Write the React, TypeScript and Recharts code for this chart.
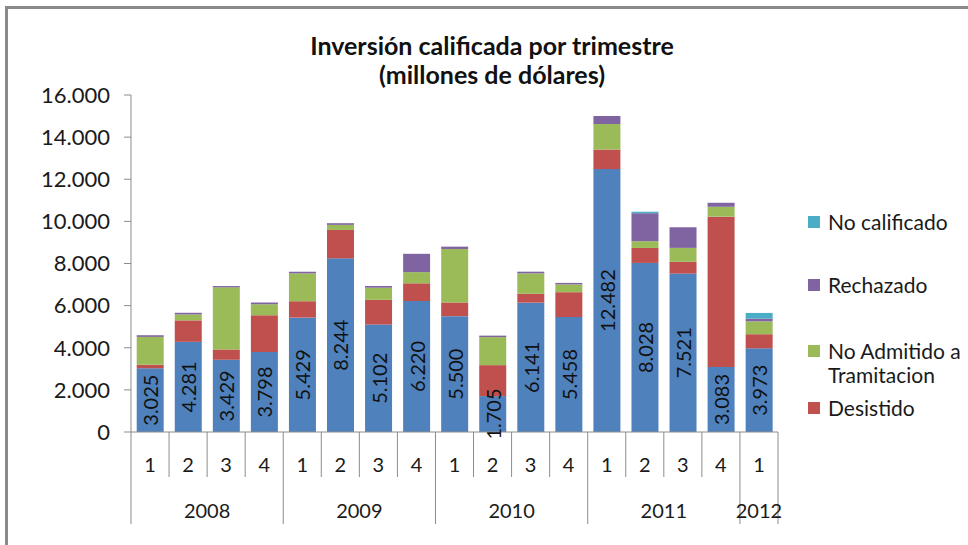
import { Bar, BarChart, LabelList, XAxis, YAxis } from "recharts";

const quarters = ["1", "2", "3", "4", "1", "2", "3", "4", "1", "2", "3", "4", "1", "2", "3", "4", "1"];
const years = ["2008", "2008", "2008", "2008", "2009", "2009", "2009", "2009", "2010", "2010", "2010", "2010", "2011", "2011", "2011", "2011", "2012"];
const calificado = [3025, 4281, 3429, 3798, 5429, 8244, 5102, 6220, 5500, 1705, 6141, 5458, 12482, 8028, 7521, 3083, 3973];
const desistido = [170, 1020, 490, 1750, 780, 1350, 1170, 840, 650, 1470, 420, 1180, 930, 710, 560, 7140, 670];
const noAdmitido = [1320, 280, 2950, 520, 1320, 240, 580, 530, 2540, 1330, 970, 370, 1210, 320, 660, 470, 610];
const rechazado = [80, 80, 60, 80, 80, 80, 80, 870, 110, 70, 80, 70, 380, 1330, 980, 190, 130];
const noCalificado = [0, 0, 0, 0, 0, 0, 0, 0, 0, 0, 0, 0, 0, 70, 0, 0, 270];
const yTicks = [0, 2000, 4000, 6000, 8000, 10000, 12000, 14000, 16000];

const legendItems = [
  { name: "No calificado", color: "#4BACC6", gap: 0 },
  { name: "Rechazado", color: "#8064A2", gap: 39 },
  { name: "No Admitido a Tramitacion", color: "#9BBB59", gap: 42 },
  { name: "Desistido", color: "#C0504D", gap: 9 },
];

const data = quarters.map((q, i) => ({
  key: `${years[i]}-${q}-${i}`,
  calificado: calificado[i],
  desistido: desistido[i],
  noAdmitido: noAdmitido[i],
  rechazado: rechazado[i],
  noCalificado: noCalificado[i],
}));

const FONT = "Lato, 'Open Sans', sans-serif";
const AXIS = "#8c8c8c";
const fmt = (n: number) => String(n).replace(/\B(?=(\d{3})+(?!\d))/g, ".");

function QuarterTick(props: any) {
  const { x, y, index, payload } = props;
  const half = payload?.offset ?? 19;
  const left = x - half;
  const yearStart = index === 0 || years[index] !== years[index - 1];
  const last = index === quarters.length - 1;
  const count = years.filter((yr) => yr === years[index]).length;
  return (
    <g>
      <line x1={left} x2={left} y1={y} y2={y + (yearStart ? 92 : 45)} stroke={AXIS} />
      {last && <line x1={x + half} x2={x + half} y1={y} y2={y + 92} stroke={AXIS} />}
      <text x={x} y={y + 32} textAnchor="middle" dominantBaseline="central" fontSize={20} fontFamily={FONT} fill="#1a1a1a">
        {quarters[index]}
      </text>
      {yearStart && (
        <text x={left + count * half} y={y + 78} textAnchor="middle" dominantBaseline="central" fontSize={20} fontFamily={FONT} fill="#1a1a1a">
          {years[index]}
        </text>
      )}
    </g>
  );
}

function ValueLabel(props: any) {
  const { x, y, width, height, value } = props;
  const cx = x + width / 2;
  const cy = y + height / 2;
  return (
    <text x={cx} y={cy} transform={`rotate(-90 ${cx} ${cy})`} textAnchor="middle" dominantBaseline="central" fontSize={20} fontFamily={FONT} fill="#111">
      {fmt(value)}
    </text>
  );
}

export default function App() {
  return (
    <div style={{ position: "relative", width: 968, height: 545, overflow: "hidden", background: "#fff", fontFamily: FONT }}>
      <style>{`body{margin:0}`}</style>
      <div style={{ position: "absolute", left: 5, top: 6, width: 1000, height: 600, borderLeft: "3px solid #8a8a8a", borderTop: "3px solid #8a8a8a" }} />
      <div style={{ position: "absolute", left: 272, width: 440, top: 31, textAlign: "center", fontWeight: 700, fontSize: 25, lineHeight: "29px", color: "#111" }}>
        Inversión calificada por trimestre
        <br />
        (millones de dólares)
      </div>
      <BarChart width={968} height={545} data={data} margin={{ top: 95, right: 190, bottom: 0, left: 0 }} barCategoryGap="15%">
        <XAxis dataKey="key" height={113} axisLine={{ stroke: AXIS }} tickLine={false} tickSize={0} tickMargin={0} tick={<QuarterTick />} interval={0} />
        <YAxis
          width={131}
          domain={[0, 16000]}
          ticks={yTicks}
          axisLine={{ stroke: AXIS }}
          tickLine={{ stroke: AXIS }}
          tickSize={7}
          tickMargin={14}
          tickFormatter={fmt}
          tick={{ fontSize: 22, fontFamily: FONT, fill: "#1a1a1a" }}
        />
        <Bar dataKey="calificado" stackId="a" fill="#4F81BD" isAnimationActive={false}>
          <LabelList dataKey="calificado" content={<ValueLabel />} />
        </Bar>
        <Bar dataKey="desistido" stackId="a" fill="#C0504D" isAnimationActive={false} />
        <Bar dataKey="noAdmitido" stackId="a" fill="#9BBB59" isAnimationActive={false} />
        <Bar dataKey="rechazado" stackId="a" fill="#8064A2" isAnimationActive={false} />
        <Bar dataKey="noCalificado" stackId="a" fill="#4BACC6" isAnimationActive={false} />
      </BarChart>
      <div style={{ position: "absolute", left: 808, top: 210, width: 160, fontSize: 21, lineHeight: "24px", color: "#1a1a1a" }}>
        {legendItems.map((it) => (
          <div key={it.name} style={{ display: "flex", alignItems: "flex-start", marginTop: it.gap }}>
            <span style={{ width: 12, height: 12, background: it.color, marginTop: 6, marginRight: 8, flex: "none" }} />
            <span>{it.name}</span>
          </div>
        ))}
      </div>
    </div>
  );
}
